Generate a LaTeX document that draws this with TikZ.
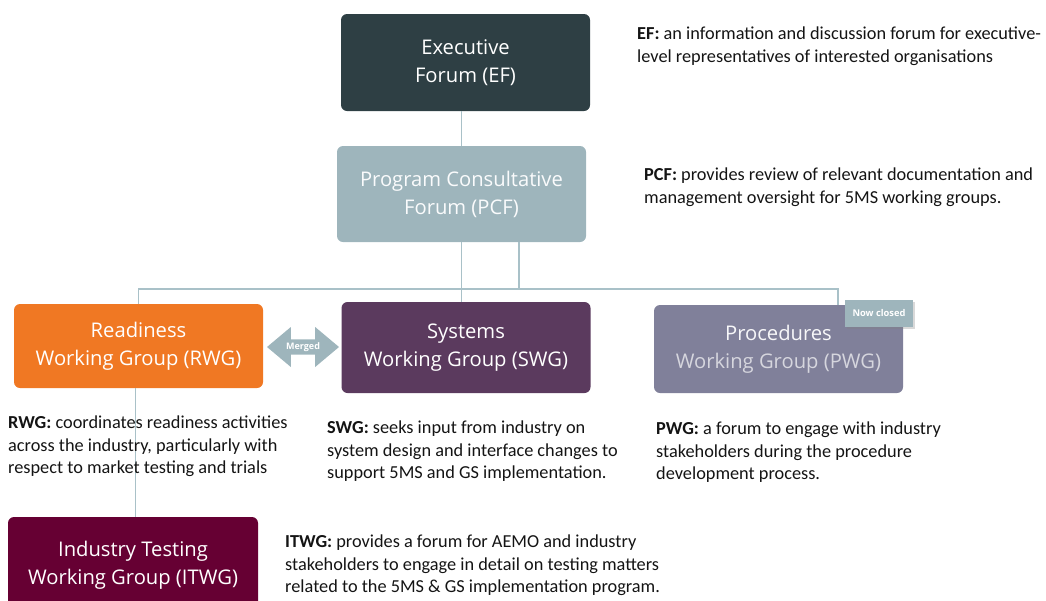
\documentclass[tikz,border=0pt]{standalone}
\usepackage{fontspec}
\setmainfont{Carlito}
\newfontfamily\boxfont{Open Sans}
\usetikzlibrary{shapes.arrows,shadows}
\definecolor{efc}{HTML}{2E3F44}
\definecolor{pcfc}{HTML}{9EB5BC}
\definecolor{rwgc}{HTML}{F07823}
\definecolor{swgc}{HTML}{5B3A5E}
\definecolor{pwgc}{HTML}{80809A}
\definecolor{itwgc}{HTML}{660033}
\definecolor{linec}{HTML}{A9C1C8}
\definecolor{txtc}{HTML}{141414}
\definecolor{pwgtxt}{HTML}{D6D6DE}
\tikzset{
  box/.style={rounded corners=6pt, minimum width=249pt, inner sep=0pt, align=center,
    text=white, font=\boxfont\fontsize{20.2}{28}\selectfont},
  desc/.style={anchor=north west, inner sep=0pt, align=left, text=txtc,
    font=\fontsize{18.3}{22.5}\selectfont},
  conn/.style={draw=linec, line width=1.6pt},
  tag/.style={fill=pcfc, text=white, inner sep=0pt, minimum width=68pt, minimum height=27pt,
    font=\boxfont\bfseries\fontsize{9.3}{10}\selectfont, drop shadow={shadow xshift=1.5pt, shadow yshift=-1.5pt, opacity=0.3}}
}
\begin{document}
\begin{tikzpicture}[x=1pt,y=-1pt]
\useasboundingbox (0,0) rectangle (1046,600);
\clip (0,0) rectangle (1046,600);
% boxes
\node[box, fill=efc, minimum height=97pt] (ef) at (465.5,62.5) {Executive\\Forum (EF)};
\node[box, fill=pcfc, minimum height=96pt, text=white!95!pcfc] (pcf) at (461.5,194) {Program Consultative\\Forum (PCF)};
\node[box, fill=rwgc, minimum height=84pt] (rwg) at (138.5,346) {Readiness\\Working Group (RWG)};
\node[box, fill=swgc, minimum height=91pt] (swg) at (466,347.5) {Systems\\Working Group (SWG)};
\node[box, fill=pwgc, minimum height=88pt] (pwg) at (778.5,349) {\textcolor{white!94!pwgc}{Procedures}\\\textcolor{pwgtxt}{Working Group (PWG)}};
\node[box, fill=itwgc, minimum height=96pt, minimum width=250pt] (itwg) at (133,565) {Industry Testing\\Working Group (ITWG)};
% connectors
\coordinate (busL) at (138.5,289);
\coordinate (busR) at (838,289);
\coordinate (brk) at (519,289);
\draw[conn] (ef.south -| pcf.north) -- (pcf.north);
\draw[conn] (pcf.south) -- (pcf.south |- swg.north);
\draw[conn] (pcf.south -| brk) -- (brk);
\draw[conn] (rwg.north) -- (busL) -- (busR) -- (pwg.north -| busR);
\draw[conn] ([xshift=-3pt]rwg.south) -- ([xshift=-3pt]rwg.south |- itwg.north);
% merged arrow
\node[double arrow, fill=pcfc, minimum width=40pt, minimum height=72pt, double arrow head extend=7.5pt,
  double arrow tip angle=80, inner sep=0pt, text=white, font=\boxfont\bfseries\fontsize{9}{10}\selectfont]
  (merged) at (303,347) {Merged};
% tag
\node[tag] (closed) at (879,313.5) {Now closed};
% descriptions
\node[desc] (efd) at (637,27) {\textbf{EF:} an information and discussion forum for executive-\\level representatives of interested organisations};
\node[desc] (pcfd) at (644,168) {\textbf{PCF:} provides review of relevant documentation and\\management oversight for 5MS working groups.};
\node[desc] (rwgd) at (8,416) {\textbf{RWG:} coordinates readiness activities\\across the industry, particularly with\\respect to market testing and trials};
\node[desc] (swgd) at (327,421) {\textbf{SWG:} seeks input from industry on\\system design and interface changes to\\support 5MS and GS implementation.};
\node[desc] (pwgd) at (656,422) {\textbf{PWG:} a forum to engage with industry\\stakeholders during the procedure\\development process.};
\node[desc] (itwgd) at (285,535) {\textbf{ITWG:} provides a forum for AEMO and industry\\stakeholders to engage in detail on testing matters\\related to the 5MS \& GS implementation program.};
\end{tikzpicture}
\end{document}
